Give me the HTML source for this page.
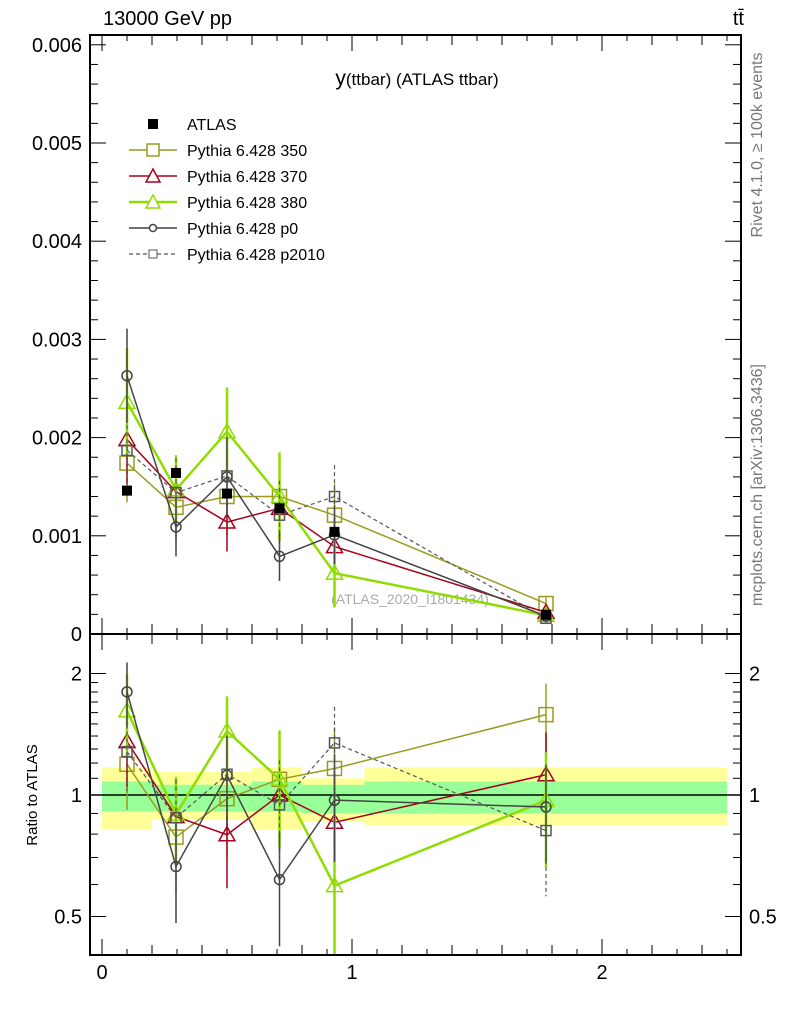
<!DOCTYPE html>
<html><head><meta charset="utf-8"><style>
body{margin:0;background:#fff;width:786px;height:1024px;overflow:hidden}
svg text{font-family:"Liberation Sans",sans-serif}
</style></head><body>
<svg id="c" width="786" height="1024" xmlns="http://www.w3.org/2000/svg">
<text x="103" y="25" font-size="20">13000 GeV pp</text>
<text x="744" y="25" font-size="20" text-anchor="end">tt̄</text>
<text x="417" y="85" font-size="17" text-anchor="middle"><tspan font-size="21">y</tspan>(ttbar) (ATLAS ttbar)</text>
<text transform="translate(762,145) rotate(-90)" font-size="16" fill="#777" text-anchor="middle">Rivet 4.1.0, ≥ 100k events</text>
<text transform="translate(762,485) rotate(-90)" font-size="16" fill="#777" text-anchor="middle">mcplots.cern.ch [arXiv:1306.3436]</text>
<text x="410" y="604" font-size="14" fill="#aaa" text-anchor="middle">(ATLAS_2020_I1801434)</text>
<text transform="translate(37,795) rotate(-90)" font-size="15" text-anchor="middle">Ratio to ATLAS</text>
<g id="g"></g>
</svg>
<script>
const xCenters=[0.1,0.296,0.5,0.71,0.93,1.776];
const binEdges=[0,0.2,0.6,0.8,1.05,2.5];
const bandYellowHi=[1.17,1.14,1.17,1.10,1.17];
const bandYellowLo=[0.82,0.87,0.82,0.86,0.84];
const bandGreenHi=[1.08,1.06,1.08,1.06,1.08];
const bandGreenLo=[0.91,0.91,0.91,0.90,0.90];
const atlas=[1.46,1.64,1.43,1.28,1.04,0.196];
const atlasErr=[0.05,0.05,0.05,0.05,0.05,0.02];
const s350=[1.74,1.29,1.40,1.40,1.21,0.31];
const e350=[0.40,0.35,0.40,0.35,0.32,0.06];
const s370=[1.98,1.45,1.14,1.28,0.89,0.22];
const e370=[0.45,0.35,0.30,0.35,0.30,0.06];
const s380=[2.36,1.47,2.06,1.40,0.62,0.19];
const e380=[0.55,0.35,0.45,0.45,0.35,0.06];
const sp0=[2.63,1.09,1.60,0.79,1.01,0.183];
const ep0=[0.48,0.30,0.40,0.25,0.30,0.05];
const sp2010=[1.87,1.44,1.61,1.21,1.40,0.16];
const ep2010=[0.40,0.35,0.40,0.35,0.32,0.05];
const yTicks=["0","0.001","0.002","0.003","0.004","0.005","0.006"];
const xTicks=[0,1,2];
const rTicks=[0.5,1,2];

const NS="http://www.w3.org/2000/svg",G=document.getElementById('g');
const X=v=>102+v*250, Y=v=>634-v*98.2, R=r=>795-Math.log2(r)*121.5;
const RT=634,RB=955;
function el(t,a,p){const e=document.createElementNS(NS,t);for(const k in a)e.setAttribute(k,a[k]);(p||G).appendChild(e);return e;}
for(let i=0;i<binEdges.length-1;i++){
 const b=el('rect',{x:X(binEdges[i]),y:R(bandYellowHi[i]),width:X(binEdges[i+1])-X(binEdges[i]),height:R(bandYellowLo[i])-R(bandYellowHi[i]),fill:'#ffff99'});
 
 
 const g=el('rect',{x:X(binEdges[i]),y:R(bandGreenHi[i]),width:X(binEdges[i+1])-X(binEdges[i]),height:R(bandGreenLo[i])-R(bandGreenHi[i]),fill:'#99ff99'});
 
 
}
el('line',{x1:90,x2:741,y1:R(1),y2:R(1),stroke:'#000','stroke-width':1.5});
function marker(type,x,y,col,sw,parent){
 if(type==='sq')return el('rect',{x:x-7,y:y-7,width:14,height:14,fill:'none',stroke:col,'stroke-width':sw},parent);
 if(type==='sqs')return el('rect',{x:x-5,y:y-5,width:10,height:10,fill:'none',stroke:col,'stroke-width':sw},parent);
 if(type==='tri')return el('path',{d:`M${x},${y-8}L${x+8},${y+6}L${x-8},${y+6}Z`,fill:'none',stroke:col,'stroke-width':sw},parent);
 if(type==='circ')return el('circle',{cx:x,cy:y,r:5,fill:'none',stroke:col,'stroke-width':sw},parent);
 if(type==='full')return el('rect',{x:x-5,y:y-5,width:10,height:10,fill:col},parent);
}
const series=[
 {n:'pythia-350',v:s350,e:e350,c:'#9a9a20',w:1.5,m:'sq',d:''},
 {n:'pythia-370',v:s370,e:e370,c:'#a8001c',w:1.5,m:'tri',d:''},
 {n:'pythia-380',v:s380,e:e380,c:'#8fdd00',w:2.5,m:'tri',d:''},
 {n:'pythia-p0',v:sp0,e:ep0,c:'#444',w:1.5,m:'circ',d:''},
 {n:'pythia-p2010',v:sp2010,e:ep2010,c:'#555',w:1.2,m:'sqs',d:'4,3'}];
function clampR(r){return Math.min(RB,Math.max(RT,R(r)));}
series.forEach(s=>{
 const gm=el('g',{});
 
 
 el('polyline',{points:s.v.map((v,i)=>X(xCenters[i])+','+Y(v)).join(' '),fill:'none',stroke:s.c,'stroke-width':s.w,'stroke-dasharray':s.d},gm);
 s.v.forEach((v,i)=>{
  el('line',{x1:X(xCenters[i]),x2:X(xCenters[i]),y1:Y(v+s.e[i]),y2:Y(Math.max(0,v-s.e[i])),stroke:s.c,'stroke-width':s.w,'stroke-dasharray':s.d},gm);
  const m=marker(s.m,X(xCenters[i]),Y(v),s.c,1.5,gm);
  
  
 });
 const gr=el('g',{});
 
 
 const rv=s.v.map((v,i)=>v/atlas[i]);
 el('polyline',{points:rv.map((r,i)=>X(xCenters[i])+','+clampR(r)).join(' '),fill:'none',stroke:s.c,'stroke-width':s.w,'stroke-dasharray':s.d},gr);
 rv.forEach((r,i)=>{
  const re=s.e[i]/atlas[i];
  el('line',{x1:X(xCenters[i]),x2:X(xCenters[i]),y1:clampR(r+re),y2:clampR(Math.max(0.01,r-re)),stroke:s.c,'stroke-width':s.w,'stroke-dasharray':s.d},gr);
  if(R(r)>RT&&R(r)<RB){const m=marker(s.m,X(xCenters[i]),R(r),s.c,1.5,gr);
  
  }
 });
});
atlas.forEach((v,i)=>{
 el('line',{x1:X(xCenters[i]),x2:X(xCenters[i]),y1:Y(v+atlasErr[i]),y2:Y(v-atlasErr[i]),stroke:'#000'});
 const m=marker('full',X(xCenters[i]),Y(v),'#000',1);
 
 
});
el('rect',{x:90,y:35,width:651,height:599,fill:'none',stroke:'#000','stroke-width':2});
el('rect',{x:90,y:634,width:651,height:321,fill:'none',stroke:'#000','stroke-width':2});
for(let k=0;k<=30;k++){const v=k*0.2,y=Y(v);if(y<36)continue;const L=k%5===0?16:8;
 el('line',{x1:90,x2:90+L,y1:y,y2:y,stroke:'#000'});el('line',{x1:741,x2:741-L,y1:y,y2:y,stroke:'#000'});}
yTicks.forEach((t,i)=>{const tx=el('text',{x:82,y:Y(i)+7,'font-size':20,'text-anchor':'end'});tx.textContent=t;
 
 });
for(let r=0.4;r<=2.5;r+=(r<2-1e-6?0.1:0.5)){const y=R(r);if(y<RT||y>RB)continue;
 const maj=[0.5,1,2].some(m=>Math.abs(m-r)<1e-6);const L=maj?16:8;
 el('line',{x1:90,x2:90+L,y1:y,y2:y,stroke:'#000'});el('line',{x1:741,x2:741-L,y1:y,y2:y,stroke:'#000'});}
rTicks.forEach(t=>{[[82,'end'],[749,'start']].forEach(([x,a])=>{const tx=el('text',{x:x,y:R(t)+7,'font-size':20,'text-anchor':a});tx.textContent=String(t);
 
 });});
for(let k=0;k<=25;k++){const v=k*0.1,x=X(v);const L=k%10===0?16:(k%2===0?10:6);
 [[634,1],[955,-1],[35,-1],[634,-1]].forEach(([y0,d])=>el('line',{x1:x,x2:x,y1:y0,y2:y0+(y0===35?L:-d*L*(d===1?1:1)*(-1)),stroke:'#000'}));}
xTicks.forEach(t=>{const tx=el('text',{x:X(t),y:979,'font-size':20,'text-anchor':'middle'});tx.textContent=String(t);
 
 });
const leg=[['ATLAS','#000','full',1,''],['Pythia 6.428 350','#9a9a20','sq',1.5,''],['Pythia 6.428 370','#a8001c','tri',1.5,''],['Pythia 6.428 380','#8fdd00','tri',2.5,''],['Pythia 6.428 p0','#444','circ',1.5,''],['Pythia 6.428 p2010','#555','sqs',1.2,'4,3']];
const legY=[124,150,176,202,228,254];
leg.forEach((l,i)=>{const g=el('g',{});
 
 
 const y=legY[i];
 if(i>0)el('line',{x1:129,x2:177,y1:y,y2:y,stroke:l[1],'stroke-width':l[3],'stroke-dasharray':l[4]},g);
 if(l[2]==='circ')el('circle',{cx:153,cy:y,r:3.5,fill:'#fff',stroke:l[1],'stroke-width':1.5},g);
 else if(l[2]==='sqs')el('rect',{x:149,y:y-4,width:8,height:8,fill:'#fff',stroke:l[1]},g);
 else if(l[2]==='sq')el('rect',{x:147,y:y-6,width:12,height:12,fill:'#fff',stroke:l[1],'stroke-width':1.5},g);
 else if(l[2]==='tri')el('path',{d:`M153,${y-7}L160,${y+6}L146,${y+6}Z`,fill:'#fff',stroke:l[1],'stroke-width':1.5},g);
 else el('rect',{x:148,y:y-5,width:10,height:10,fill:'#000'},g);
 const t=el('text',{x:187,y:y+6,'font-size':16},g);t.textContent=l[0];});
</script>
</body></html>
